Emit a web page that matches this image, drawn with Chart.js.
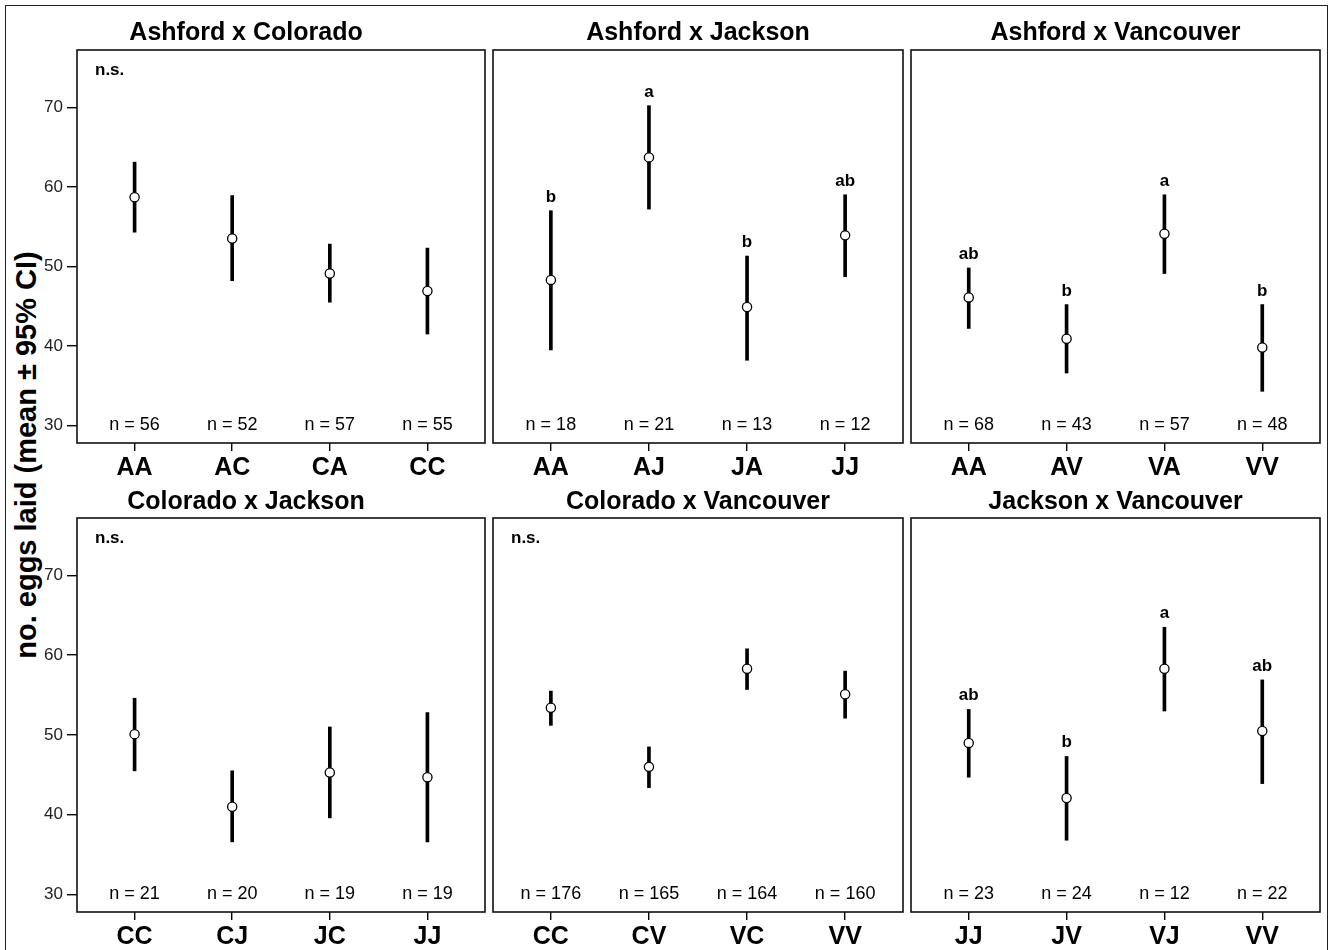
<!DOCTYPE html>
<html>
<head>
<meta charset="utf-8">
<script src="https://cdn.jsdelivr.net/npm/chart.js@4.4.1/dist/chart.umd.min.js"></script>
<style>
  html, body { margin: 0; padding: 0; background: #fff; overflow: hidden; }
  #wrap { position: relative; width: 1329px; height: 950px; background: #fff; overflow: hidden; }
  #frame { position: absolute; left: 5px; top: 5px; width: 1323px; height: 980px; border: 1.6px solid #222; box-sizing: border-box; }
  #wrap canvas { position: absolute; }
  #ytitle {
    position: absolute; left: 26px; top: 455px;
    transform: translate(-50%, -50%) rotate(-90deg);
    font: bold 29px "Liberation Sans", Arial, sans-serif; color: #000; white-space: nowrap;
  }
</style>
</head>
<body>
<div id="wrap">
  <div id="frame"></div>
  <div id="ytitle">no. eggs laid (mean ± 95% CI)</div>
</div>
<script>
// ---- data ----
const panelTitles = [
    'Ashford x Colorado', 'Ashford x Jackson', 'Ashford x Vancouver',
    'Colorado x Jackson', 'Colorado x Vancouver', 'Jackson x Vancouver'
];
const groupLabels = [
    ['AA', 'AC', 'CA', 'CC'],
    ['AA', 'AJ', 'JA', 'JJ'],
    ['AA', 'AV', 'VA', 'VV'],
    ['CC', 'CJ', 'JC', 'JJ'],
    ['CC', 'CV', 'VC', 'VV'],
    ['JJ', 'JV', 'VJ', 'VV']
];
const meanEggs = [
    [58.7, 53.5, 49.1, 46.9],
    [48.3, 63.7, 44.9, 53.9],
    [46.1, 40.9, 54.1, 39.8],
    [50.1, 41.0, 45.3, 44.7],
    [53.4, 46.0, 58.3, 55.1],
    [49.0, 42.1, 58.3, 50.5]
];
const ciLow = [
    [54.3, 48.2, 45.5, 41.5],
    [39.5, 57.2, 38.2, 48.7],
    [42.2, 36.6, 49.1, 34.3],
    [45.5, 36.6, 39.6, 36.6],
    [51.2, 43.4, 55.7, 52.1],
    [44.7, 36.8, 53.0, 43.9]
];
const ciHigh = [
    [63.1, 58.9, 52.8, 52.3],
    [57.0, 70.2, 51.3, 59.0],
    [49.8, 45.2, 59.0, 45.2],
    [54.6, 45.5, 51.0, 52.8],
    [55.5, 48.5, 60.8, 58.0],
    [53.2, 47.3, 63.5, 56.9]
];
const sampleSizes = [
    [56, 52, 57, 55],
    [18, 21, 13, 12],
    [68, 43, 57, 48],
    [21, 20, 19, 19],
    [176, 165, 164, 160],
    [23, 24, 12, 22]
];
const sigLetters = [
    null,
    ['b', 'a', 'b', 'ab'],
    ['ab', 'b', 'a', 'b'],
    null,
    null,
    ['ab', 'b', 'a', 'ab']
];
const yTicks = [30, 40, 50, 60, 70];
const yMin = 27.8, yMax = 77.2;
const nLabelLevel = 30;

// ---- layout of the 2 x 3 grid (chart area edges) ----
const colLeft = [77, 493, 911];
const colRight = [485, 903, 1320];
const rowTop = [50, 518];
const rowBottom = [443, 912];
const FONT = '"Liberation Sans", Arial, Helvetica, sans-serif';

// box, n labels, letters, n.s.
const annotatePlugin = {
    id: 'annotate',
    afterDatasetsDraw(chart) {
        const p = chart.options.plugins.annotate;
        const ctx = chart.ctx;
        const area = chart.chartArea;
        const xs = chart.scales.x, ys = chart.scales.y;
        ctx.save();
        ctx.strokeStyle = '#111';
        ctx.lineWidth = 1.6;
        ctx.strokeRect(area.left, area.top, area.right - area.left, area.bottom - area.top);

        ctx.fillStyle = '#000';
        ctx.textAlign = 'center';
        ctx.textBaseline = 'middle';
        ctx.font = '18px ' + FONT;
        p.n.forEach((n, i) => {
            ctx.fillText('n = ' + n, xs.getPixelForValue(i + 1), ys.getPixelForValue(nLabelLevel));
        });

        ctx.font = 'bold 17px ' + FONT;
        ctx.textBaseline = 'alphabetic';
        if (p.letters) {
            p.letters.forEach((l, i) => {
                ctx.fillText(l, xs.getPixelForValue(i + 1), ys.getPixelForValue(p.hi[i]) - 9);
            });
        } else {
            ctx.textAlign = 'left';
            ctx.fillText('n.s.', area.left + 18, area.top + 25);
        }
        ctx.restore();
    }
};

for (let k = 0; k < 6; k++) {
    const row = Math.floor(k / 3), col = k % 3;
    const leftRoom = col === 0 ? 70 : 4;
    const cv = document.createElement('canvas');
    const w = colRight[col] - colLeft[col] + leftRoom + 4;
    const h = rowBottom[row] - rowTop[row] + 40 + 40;
    cv.style.left = (colLeft[col] - leftRoom) + 'px';
    cv.style.top = (rowTop[row] - 40) + 'px';
    cv.style.width = w + 'px';
    cv.style.height = h + 'px';
    cv.width = w; cv.height = h;
    document.getElementById('wrap').appendChild(cv);

    const labels = groupLabels[k];
    const titlePadTop = row === 0 ? 9 : 10.5;

    new Chart(cv.getContext('2d'), {
        type: 'bar',
        data: {
            datasets: [
                {
                    type: 'scatter',
                    data: meanEggs[k].map((m, i) => ({ x: i + 1, y: m })),
                    pointRadius: 4.6,
                    pointHoverRadius: 4.6,
                    pointBackgroundColor: '#fff',
                    pointBorderColor: '#000',
                    pointBorderWidth: 1.3,
                    order: 0
                },
                {
                    type: 'bar',
                    data: ciLow[k].map((lo, i) => ({ x: i + 1, y: [lo, ciHigh[k][i]] })),
                    backgroundColor: '#000',
                    borderWidth: 0,
                    barThickness: 3,
                    order: 1
                }
            ]
        },
        options: {
            responsive: false,
            animation: false,
            events: [],
            layout: {
                autoPadding: false,
                padding: { left: col === 0 ? 0 : 4, right: 4, top: 0, bottom: 0 }
            },
            plugins: {
                legend: { display: false },
                tooltip: { enabled: false },
                title: {
                    display: true,
                    text: panelTitles[k],
                    color: '#000',
                    font: { family: FONT, size: 25, weight: 'bold', lineHeight: 1.1 },
                    padding: { top: titlePadTop, bottom: 40 - titlePadTop - 27.5 }
                },
                annotate: {
                    n: sampleSizes[k],
                    letters: sigLetters[k],
                    hi: ciHigh[k]
                }
            },
            scales: {
                x: {
                    type: 'linear',
                    min: 0.41,
                    max: 4.59,
                    offset: false,
                    afterBuildTicks: s => { s.ticks = [1, 2, 3, 4].map(v => ({ value: v })); },
                    afterFit: s => { s.height = 40; },
                    border: { display: false },
                    grid: { offset: false, drawOnChartArea: false, drawTicks: true, tickLength: 8, color: '#000', lineWidth: 1.4 },
                    ticks: {
                        autoSkip: false,
                        maxRotation: 0,
                        padding: 2,
                        color: '#000',
                        font: { family: FONT, size: 25, weight: 'bold' },
                        callback: v => labels[v - 1]
                    }
                },
                y: {
                    display: col === 0,
                    min: yMin,
                    max: yMax,
                    afterBuildTicks: s => { s.ticks = yTicks.map(v => ({ value: v })); },
                    afterFit: s => { s.width = col === 0 ? 70 : 0; },
                    border: { display: false },
                    grid: { drawOnChartArea: false, drawTicks: true, tickLength: 10, color: '#000', lineWidth: 1.4 },
                    ticks: {
                        padding: 4,
                        color: '#222',
                        font: { family: FONT, size: 17 }
                    }
                }
            }
        },
        plugins: [annotatePlugin]
    });
}
</script>
</body>
</html>
